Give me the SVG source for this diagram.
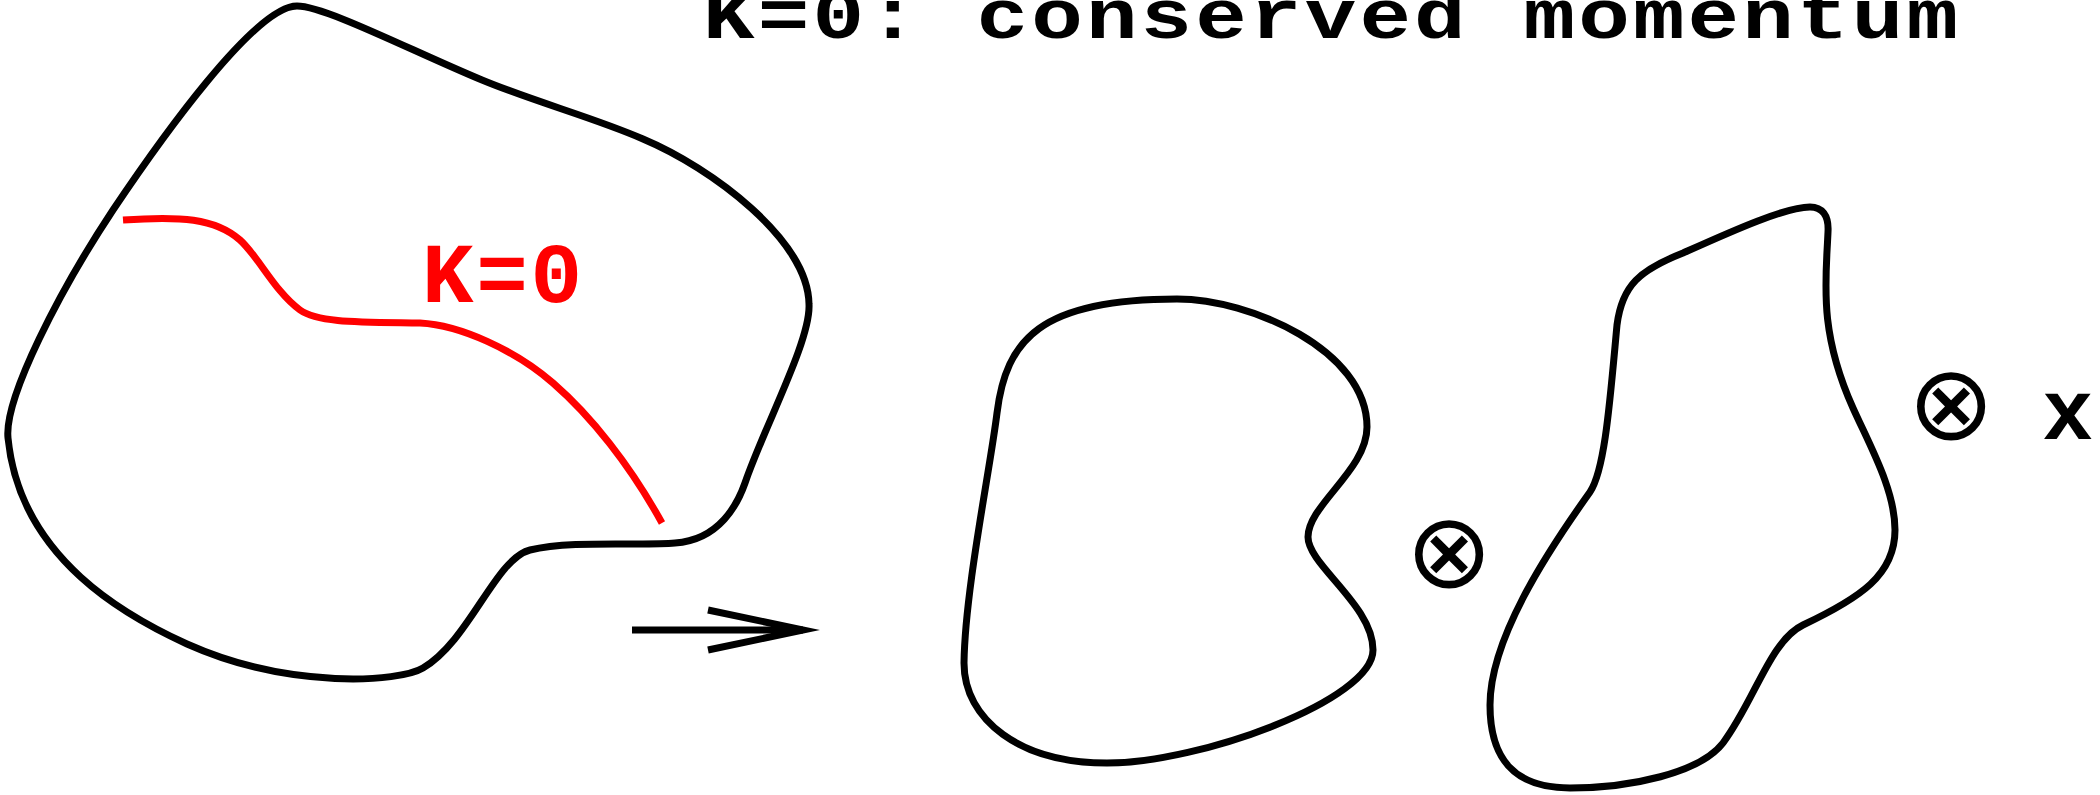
<svg xmlns="http://www.w3.org/2000/svg" width="2100" height="795" viewBox="0 0 2100 795">
<style>
.blob{fill:none;stroke:#000;stroke-width:7;stroke-linejoin:round}
.red{fill:none;stroke:#ff0000;stroke-width:7}
.mono{font-family:"Liberation Mono","Courier New",monospace;font-weight:bold;font-size:86px}
.op{font-family:"DejaVu Sans",sans-serif;font-size:104px;text-anchor:middle}
</style>
<defs>
<marker id="arr" markerUnits="userSpaceOnUse" markerWidth="120" markerHeight="60" refX="100" refY="30" orient="auto" viewBox="0 0 120 60">
<polyline points="5,10 100,30 5,50" fill="none" stroke="#000" stroke-width="7" stroke-linejoin="miter" stroke-miterlimit="20"/>
</marker>
</defs>
<rect width="2100" height="795" fill="#fff"/>
<g id="title"><text class="mono" transform="translate(703,38) scale(1,0.82)" x="0" y="0" textLength="1255" lengthAdjust="spacing">K=0: conserved momentum</text></g>
<g id="blob-left">
<path class="blob" d="M297,6 C325,6 410,50 482,80 C535,102 595,118 643,139 C712,168 808,240 809,304 C811,340 765,425 745,483 C738,503 720,540 675,543 C640,546 570,540 530,550 C495,559 470,640 423,668 C400,682 290,690 187,644 C130,618 20,560 8,438 C4,398 60,290 113,210 C160,140 255,6 297,6 Z"/>
<path class="red" d="M123,220 C180,216 215,218 240,240 C258,256 275,292 300,310 C318,323 360,322 420,323 C460,325 515,350 553,383 C591,416 630,465 662,523"/>
<text class="mono" x="422" y="302" fill="#ff0000" textLength="160" lengthAdjust="spacing">K=0</text>
</g>
<g id="connectors">
<line x1="632" y1="630" x2="803" y2="630" stroke="#000" stroke-width="7" marker-end="url(#arr)"/>
</g>
<g id="blob-middle">
<path class="blob" d="M1177,299 C1250,299 1367,350 1367,427 C1367,470 1308,505 1308,537 C1308,565 1373,605 1373,650 C1373,700 1200,763 1107,763 C1020,763 964,720 964,663 C965,590 990,470 997,413 C1006,340 1040,299 1177,299 Z"/>
</g>
<g id="otimes-1"><text class="op" x="1449" y="587">⊗</text></g>
<g id="blob-right">
<path class="blob" d="M1810,207 C1822,207 1829,215 1828,232 C1826,280 1818,330 1853,408 C1870,446 1895,490 1895,530 C1895,575 1860,598 1803,625 C1770,641 1755,700 1723,743 C1700,773 1630,788 1570,788 C1515,788 1490,760 1490,705 C1490,640 1545,555 1590,492 C1605,470 1610,400 1617,325 C1622,285 1640,270 1683,253 C1730,232 1785,207 1810,207 Z"/>
</g>
<g id="otimes-2"><text class="op" x="1951" y="439">⊗</text></g>
<g id="label-x"><text class="mono" x="2042" y="439">x</text></g>
</svg>
